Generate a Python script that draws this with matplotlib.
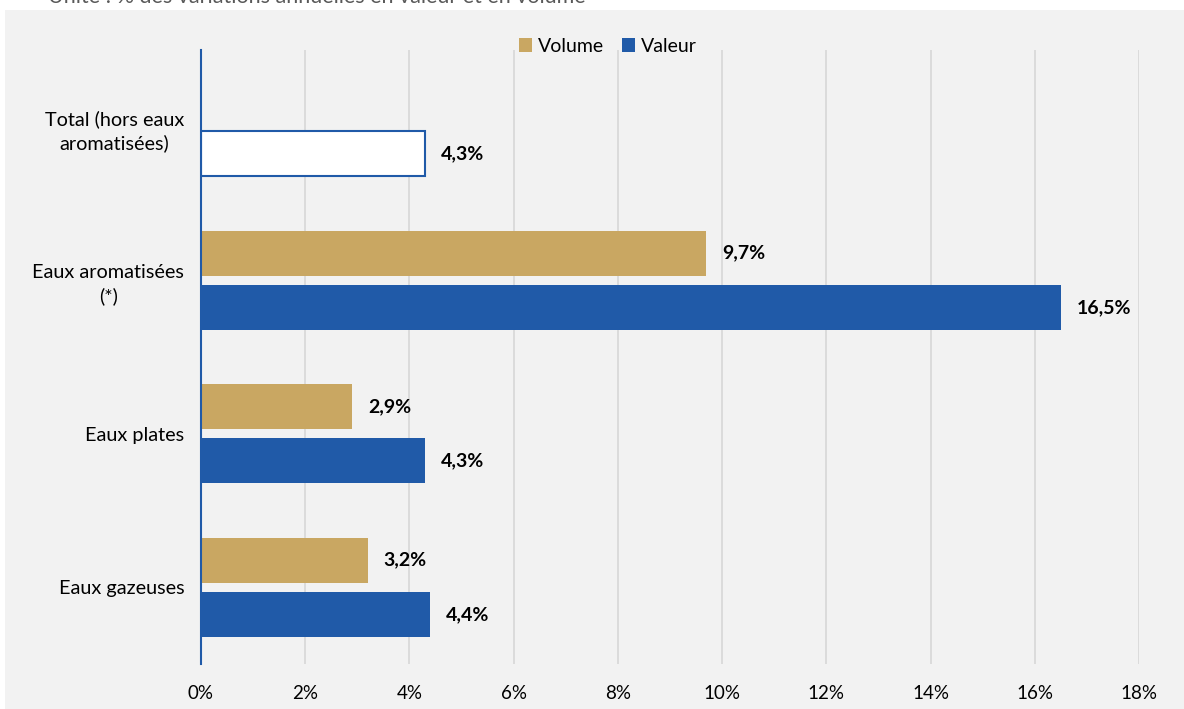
import matplotlib
matplotlib.use("Agg")
import matplotlib.pyplot as plt
from matplotlib.patches import Patch
import numpy as np

categories = ["Total (hors eaux\naromatisées)", "Eaux aromatisées\n(*)", "Eaux plates", "Eaux gazeuses"]
volume = [None, 9.7, 2.9, 3.2]
valeur = [4.3, 16.5, 4.3, 4.4]
xticks = [0, 2, 4, 6, 8, 10, 12, 14, 16, 18]

C_VOL = "#C9A762"
C_VAL = "#205AA8"
BG = "#F2F2F2"
FONT = "Lato"
FS = 14

plt.rcParams["font.family"] = [FONT, "DejaVu Sans"]

W, H = 1184, 709
fig = plt.figure(figsize=(W / 100, H / 100), dpi=100)
fig.patch.set_facecolor("white")

# gray panel as a background axes
bg = fig.add_axes([5 / W, 0, 1 - 5 / W, 1 - 10 / H], zorder=-10)
bg.set_facecolor(BG)
bg.set_xticks([])
bg.set_yticks([])
for s in bg.spines.values():
    s.set_visible(False)

# cut-off subtitle
fig.text(48 / W, 1 + 3 / H, "Unité : % des variations annuelles en valeur et en volume",
         ha="left", va="center", fontsize=15.5, color="#595959")

ax = fig.add_axes([201 / W, 1 - 664 / H, (1139 - 201) / W, (664 - 50) / H])
ax.patch.set_alpha(0)

y = np.arange(len(categories))
h = 0.295
off = 0.176
for i, (vo, va) in enumerate(zip(volume, valeur)):
    if vo is not None:
        ax.barh(y[i] - off, vo, height=h, color=C_VOL, zorder=3)
        ax.text(vo + 0.3, y[i] - off, f"{vo:.1f}%".replace(".", ","), va="center", ha="left",
                fontsize=FS, fontweight="bold", color="black")
    if i == 0:
        ax.barh(y[i] + off, va, height=h, facecolor="white", edgecolor=C_VAL, linewidth=1.5, zorder=3)
    else:
        ax.barh(y[i] + off, va, height=h, color=C_VAL, zorder=3)
    ax.text(va + 0.3, y[i] + off, f"{va:.1f}%".replace(".", ","), va="center", ha="left",
            fontsize=FS, fontweight="bold", color="black")

ax.set_ylim(len(categories) - 0.5, -0.5)
ax.set_xlim(0, 18)
ax.set_xticks(xticks)
ax.set_xticklabels([f"{t}%" for t in xticks], fontsize=13.5)
ax.set_yticks(y)
ax.set_yticklabels(categories, fontsize=14.3, ha="right", multialignment="center",
                   linespacing=1.4)
ax.tick_params(axis="y", length=0, pad=12)
ax.tick_params(axis="x", length=0, pad=15)
ax.grid(axis="x", color="#D9D9D9", linewidth=1.3, zorder=0)
ax.set_axisbelow(True)
for s in ["top", "right", "bottom"]:
    ax.spines[s].set_visible(False)
ax.spines["left"].set_color(C_VAL)
ax.spines["left"].set_linewidth(1.5)
ax.spines["left"].set_zorder(4)

handles = [Patch(facecolor=C_VOL, label="Volume"), Patch(facecolor=C_VAL, label="Valeur")]
fig.legend(handles=handles, loc="center", bbox_to_anchor=(608 / W, 1 - 46 / H), ncol=2,
           frameon=False, fontsize=FS, handlelength=0.7, handleheight=0.7,
           handletextpad=0.3, columnspacing=0.9)

fig.savefig("out.png", dpi=100, facecolor="white")
